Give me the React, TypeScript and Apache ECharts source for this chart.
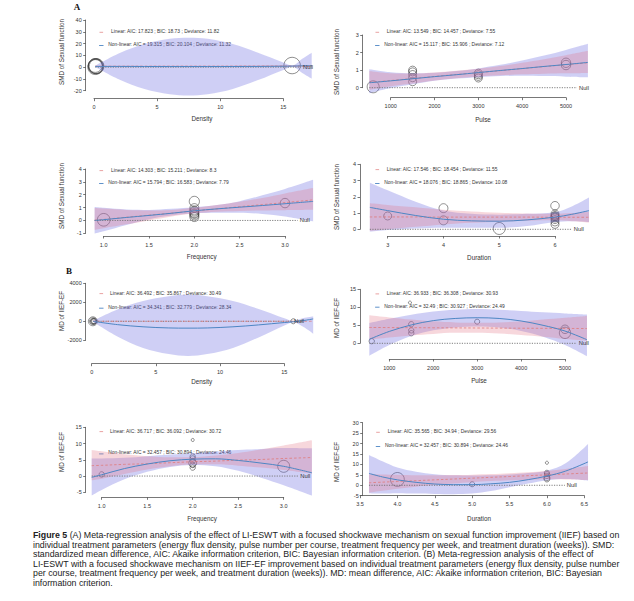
import React, { useEffect, useRef } from "react";
import * as echarts from "echarts";

// ---------- Panel A1: Density (SMD) ----------
const a1CurveX = [0.1, 2, 4, 6, 7.5, 9, 11, 13, 15, 15.7, 16.5, 17.25];
const a1NonlinFit = [0.6, 0.6, 0.55, 0.5, 0.5, 0.5, 0.55, 0.6, 0.8, 0.9, 1.1, 1.3];
const a1NonlinLower = [0.1, -10.5, -18.5, -23, -24, -23, -18.5, -11, -2.4, 0.4, -4.9, -9.7];
const a1NonlinUpper = [1.1, 11.7, 19.6, 24, 25, 24, 19.6, 12.2, 4, 1.4, 7.1, 12.3];
const a1LinFit = [0.75, 0.76, 0.78, 0.8, 0.81, 0.82, 0.84, 0.86, 0.88, 0.89, 0.9, 0.91];
const a1LinLower = [0.4, 0.45, 0.5, 0.5, 0.5, 0.45, 0.4, 0.3, 0.2, 0.15, 0.1, 0.05];
const a1LinUpper = [1.1, 1.07, 1.06, 1.1, 1.12, 1.19, 1.28, 1.42, 1.56, 1.63, 1.7, 1.77];
const a1StudyX = [0.1, 0.1, 0.12, 0.15, 0.2, 15.7];
const a1StudyY = [0.05, 1.4, 0.7, 0.9, 0.6, 1.35];
const a1Weight = [14, 12, 13, 14.5, 13.5, 17];

// ---------- Panel A2: Pulse (SMD) ----------
const a2CurveX = [511, 1000, 1500, 2000, 2500, 3000, 3500, 4000, 4500, 5000, 5500];
const a2NonlinFit = [0.28, 0.39, 0.51, 0.63, 0.74, 0.86, 0.98, 1.09, 1.21, 1.32, 1.44];
const a2NonlinLower = [-0.32, -0.02, 0.2, 0.4, 0.52, 0.6, 0.66, 0.68, 0.66, 0.63, 0.59];
const a2NonlinUpper = [1.05, 0.88, 0.82, 0.85, 0.95, 1.1, 1.3, 1.55, 1.83, 2.15, 2.5];
const a2LinFit = [0.3, 0.41, 0.52, 0.64, 0.75, 0.86, 0.97, 1.09, 1.2, 1.31, 1.42];
const a2LinLower = [-0.13, 0.08, 0.24, 0.41, 0.54, 0.64, 0.71, 0.76, 0.8, 0.82, 0.84];
const a2LinUpper = [0.95, 0.82, 0.8, 0.86, 0.96, 1.08, 1.23, 1.42, 1.62, 1.85, 2.1];
const a2StudyX = [600, 1500, 1500, 1500, 1500, 1500, 3000, 3000, 3000, 3000, 5000, 5000];
const a2StudyY = [0.05, 1.0, 0.9, 0.75, 0.57, 0.34, 0.83, 0.74, 0.64, 0.55, 1.42, 1.29];
const a2Weight = [9, 4, 4, 4, 4, 4, 4, 4, 4, 4, 5.5, 5.5];

// ---------- Panel A3: Frequency (SMD) ----------
const a3CurveX = [0.9, 1.0, 1.25, 1.5, 1.75, 2.0, 2.25, 2.5, 2.75, 3.0, 3.31];
const a3NonlinFit = [0.0, 0.06, 0.23, 0.39, 0.56, 0.75, 0.9, 1.03, 1.16, 1.3, 1.48];
const a3NonlinLower = [-1.03, -0.85, -0.35, 0.1, 0.38, 0.55, 0.6, 0.6, 0.5, 0.3, -0.08];
const a3NonlinUpper = [1.04, 0.98, 0.85, 0.82, 0.9, 1.02, 1.2, 1.5, 1.95, 2.45, 3.16];
const a3LinFit = [0.02, 0.08, 0.25, 0.41, 0.57, 0.74, 0.9, 1.07, 1.23, 1.39, 1.6];
const a3LinLower = [-0.72, -0.6, -0.3, 0.0, 0.3, 0.55, 0.68, 0.74, 0.78, 0.8, 0.83];
const a3LinUpper = [0.96, 0.92, 0.82, 0.78, 0.82, 0.98, 1.2, 1.45, 1.75, 2.1, 2.52];
const a3StudyX = [1.0, 2.0, 2.0, 2.0, 2.0, 2.0, 2.0, 2.0, 2.0, 3.0];
const a3StudyY = [0.05, 1.48, 0.96, 0.78, 0.68, 0.57, 0.5, 0.39, 0.26, 1.35];
const a3Weight = [10, 6.5, 5, 5, 5, 5, 5, 5, 5, 5.5];

// ---------- Panel A4: Duration (SMD) ----------
const a4CurveX = [2.68, 3, 3.5, 4, 4.5, 5, 5.5, 6, 6.3, 6.61];
const a4NonlinFit = [1.35, 1.15, 0.85, 0.62, 0.52, 0.5, 0.58, 0.75, 0.92, 1.15];
const a4NonlinLower = [-0.15, -0.05, 0.05, 0.1, 0.1, 0.1, 0.2, 0.45, 0.5, 0.45];
const a4NonlinUpper = [2.87, 2.4, 1.7, 1.15, 0.95, 0.9, 0.95, 1.05, 1.4, 1.95];
const a4LinFit = [0.76, 0.76, 0.76, 0.75, 0.75, 0.75, 0.75, 0.74, 0.74, 0.74];
const a4LinLower = [-0.1, 0.0, 0.15, 0.3, 0.4, 0.47, 0.53, 0.55, 0.5, 0.42];
const a4LinUpper = [1.6, 1.5, 1.35, 1.2, 1.1, 1.02, 0.97, 0.95, 1.0, 1.08];
const a4StudyX = [3, 4, 4, 5, 6, 6, 6, 6, 6, 6, 6, 6, 6];
const a4StudyY = [0.82, 1.3, 0.55, 0.05, 1.45, 0.95, 0.85, 0.8, 0.75, 0.7, 0.6, 0.45, 0.3];
const a4Weight = [4, 5, 5, 9, 4.5, 4, 4, 4, 4, 4, 4, 4, 4];

// ---------- Panel B1: Density (MD) ----------
const b1CurveX = [0.1, 2, 4, 6, 7.5, 9, 11, 13, 15, 15.7, 16.5, 17.25];
const b1NonlinFit = [0, -350, -580, -700, -720, -700, -580, -380, -130, -50, 80, 250];
const b1NonlinLower = [-60, -1600, -2800, -3450, -3650, -3450, -2800, -1700, -450, -100, -600, -1300];
const b1NonlinUpper = [60, 1250, 2150, 2650, 2800, 2650, 2150, 1300, 330, 50, 350, 500];
const b1LinFit = [4.4, 4.4, 4.3, 4.3, 4.3, 4.2, 4.2, 4.1, 4.1, 4.1, 4.0, 4.0];
const b1LinLower = [1.5, 2, 2.3, 2.2, 2, 1.7, 1.2, 0.6, 0, -0.3, -0.6, -1];
const b1LinUpper = [7.3, 6.8, 6.3, 6.4, 6.6, 6.7, 7.2, 7.6, 8.2, 8.5, 8.6, 9.0];
const b1StudyX = [0.09, 0.1, 0.1, 0.15, 0.2, 15.7];
const b1StudyY = [0.5, 5.3, 3.6, 2.8, 6.0, 3.0];
const b1Weight = [5, 3, 1.6, 2, 1.8, 1.6];

// ---------- Panel B2: Pulse (MD) ----------
const b2CurveX = [545, 1000, 1500, 2000, 2500, 3000, 3500, 4000, 4500, 5000, 5500];
const b2NonlinFit = [1.1, 3.3, 5.1, 6.3, 6.9, 7.1, 6.9, 6.2, 5.0, 3.4, 1.0];
const b2NonlinLower = [-3.5, -0.5, 2.0, 3.6, 4.4, 4.7, 4.4, 3.4, 1.8, -0.5, -3.6];
const b2NonlinUpper = [5.6, 6.8, 7.9, 8.8, 9.3, 9.5, 9.3, 9.0, 8.6, 8.3, 8.0];
const b2LinFit = [4.4, 4.37, 4.34, 4.31, 4.28, 4.25, 4.22, 4.19, 4.16, 4.13, 4.1];
const b2LinLower = [1.0, 1.6, 2.2, 2.6, 2.9, 2.9, 2.7, 2.3, 1.8, 1.2, 0.7];
const b2LinUpper = [7.8, 7.2, 6.6, 6.1, 5.8, 5.7, 5.8, 6.1, 6.6, 7.1, 7.6];
const b2StudyX = [600, 1470, 1500, 1500, 1500, 3000, 5000, 5000];
const b2StudyY = [0.6, 11.3, 5.3, 3.6, 2.8, 6.0, 3.9, 2.9];
const b2Weight = [1.8, 0.6, 1.8, 1.8, 1.8, 1.6, 4.5, 8];

// ---------- Panel B3: Frequency (MD) ----------
const b3CurveX = [0.89, 1.0, 1.25, 1.5, 1.75, 2.0, 2.25, 2.5, 2.75, 3.0, 3.31];
const b3NonlinFit = [-0.4, 0.4, 2.3, 3.7, 4.7, 5.2, 5.3, 4.8, 4.0, 3.0, 1.0];
const b3NonlinLower = [-6.0, -4.3, -1.0, 1.3, 2.8, 3.4, 3.0, 1.6, -0.5, -2.8, -6.0];
const b3NonlinUpper = [5.4, 5.4, 5.6, 6.1, 6.6, 7.0, 7.5, 8.0, 8.3, 8.6, 8.5];
const b3LinFit = [3.2, 3.3, 3.6, 3.8, 4.1, 4.4, 4.6, 4.9, 5.1, 5.4, 5.7];
const b3LinLower = [-1.3, -0.8, 0.6, 2.0, 3.0, 3.6, 3.6, 3.2, 2.6, 1.9, 0.8];
const b3LinUpper = [8.0, 7.6, 6.7, 6.1, 5.8, 5.8, 6.3, 7.1, 8.2, 9.4, 11.0];
const b3StudyX = [1.0, 2, 2, 2, 2, 2, 2, 2, 3.0];
const b3StudyY = [0.5, 11.1, 6.0, 5.4, 4.6, 4.0, 3.4, 2.6, 3.0];
const b3Weight = [1.8, 0.6, 1.8, 1.8, 1.8, 4, 1.8, 1.8, 9];

// ---------- Panel B4: Duration (MD) ----------
const b4CurveX = [3.62, 3.8, 4.0, 4.25, 4.5, 4.75, 5.0, 5.25, 5.5, 5.75, 6.0, 6.25, 6.55];
const b4NonlinFit = [5.7, 4.0, 2.6, 1.4, 0.6, 0.3, 0.3, 0.7, 1.4, 2.7, 4.4, 6.8, 11.2];
const b4NonlinLower = [-3.8, -4.0, -3.8, -4.0, -4.2, -4.3, -4.0, -2.8, -1.0, 0.8, 2.4, 3.0, 2.2];
const b4NonlinUpper = [14.5, 11.5, 8.5, 6.5, 5.3, 4.8, 4.7, 4.8, 5.2, 5.9, 7.0, 10.5, 19.8];
const b4LinFit = [1.2, 1.5, 1.8, 2.2, 2.6, 3.0, 3.4, 3.8, 4.2, 4.6, 5.0, 5.4, 5.9];
const b4LinLower = [-3.5, -2.6, -1.7, -0.7, 0.2, 0.9, 1.5, 2.0, 2.4, 2.7, 2.9, 2.8, 2.5];
const b4LinUpper = [5.3, 5.2, 5.0, 4.8, 4.8, 4.9, 5.1, 5.4, 5.8, 6.3, 6.9, 7.8, 9.2];
const b4StudyX = [4.0, 5.0, 6, 6, 6, 6, 6, 6];
const b4StudyY = [2.8, 0.5, 10.8, 6.0, 5.4, 4.5, 3.6, 3.0];
const b4Weight = [12, 1.6, 0.6, 1.6, 1.6, 1.8, 2.2, 2.2];

// ---------- Axes: ticks [min, max, step], null-line end, titles, legends ----------
const xTicks = [[0, 15, 5], [1000, 5000, 1000], [1, 3, 0.5], [3, 6, 1], [0, 15, 5], [1000, 5000, 1000], [1, 3, 0.5], [3.5, 6.5, 0.5]];
const xTickDecimals = [0, 0, 1, 0, 0, 0, 1, 1];
const yTicks = [[-20, 40, 10], [0, 3, 1], [-1, 4, 1], [0, 4, 1], [-2000, 4000, 2000], [0, 15, 5], [-5, 15, 5], [-5, 30, 5]];
const nullLineEnd = [16.4, 5250, 3.14, 6.3, 15.6, 5270, 3.16, 6.24];
const xTitles = ["Density", "Pulse", "Frequency", "Duration", "Density", "Pulse", "Frequency", "Duration"];
const yTitles = [
  "SMD of Sexual function", "SMD of Sexual function", "SMD of Sexual function", "SMD of Sexual function",
  "MD of IIEF-EF", "MD of IIEF-EF", "MD of IIEF-EF", "MD of IIEF-EF",
];
const linearLegend = [
  "Linear: AIC: 17.823 ; BIC: 18.73 ; Deviance: 11.82",
  "Linear: AIC: 13.549 ; BIC: 14.457 ; Deviance: 7.55",
  "Linear: AIC: 14.303 ; BIC: 15.211 ; Deviance: 8.3",
  "Linear: AIC: 17.546 ; BIC: 18.454 ; Deviance: 11.55",
  "Linear: AIC: 36.492 ; BIC: 35.867 ; Deviance: 30.49",
  "Linear: AIC: 36.933 ; BIC: 36.308 ; Deviance: 30.93",
  "Linear: AIC: 36.717 ; BIC: 36.092 ; Deviance: 30.72",
  "Linear: AIC: 35.565 ; BIC: 34.94 ; Deviance: 29.56",
];
const nonlinearLegend = [
  "Non-linear: AIC = 19.315 ; BIC: 20.104 ; Deviance: 11.32",
  "Non-linear: AIC = 15.117 ; BIC: 15.906 ; Deviance: 7.12",
  "Non-linear: AIC = 15.794 ; BIC: 16.583 ; Deviance: 7.79",
  "Non-linear: AIC = 18.076 ; BIC: 18.865 ; Deviance: 10.08",
  "Non-linear: AIC = 34.341 ; BIC: 32.779 ; Deviance: 28.34",
  "Non-linear: AIC = 32.49 ; BIC: 30.927 ; Deviance: 24.49",
  "Non-linear: AIC = 32.457 ; BIC: 30.894 ; Deviance: 24.46",
  "Non-linear: AIC = 32.457 ; BIC: 30.894 ; Deviance: 24.46",
];
const panelLetters = ["A", "B"];
const captionLines = [
  "(A) Meta-regression analysis of the effect of LI-ESWT with a focused shockwave mechanism on sexual function improvement (IIEF) based on",
  "individual treatment parameters (energy flux density, pulse number per course, treatment frequency per week, and treatment duration (weeks)). SMD:",
  "standardized mean difference, AIC: Akaike information criterion, BIC: Bayesian information criterion. (B) Meta-regression analysis of the effect of",
  "LI-ESWT with a focused shockwave mechanism on IIEF-EF improvement based on individual treatment parameters (energy flux density, pulse number",
  "per course, treatment frequency per week, and treatment duration (weeks)). MD: mean difference, AIC: Akaike information criterion, BIC: Bayesian",
  "information criterion.",
];

const panelData = [
  [a1CurveX, a1NonlinFit, a1NonlinLower, a1NonlinUpper, a1LinFit, a1LinLower, a1LinUpper, a1StudyX, a1StudyY, a1Weight],
  [a2CurveX, a2NonlinFit, a2NonlinLower, a2NonlinUpper, a2LinFit, a2LinLower, a2LinUpper, a2StudyX, a2StudyY, a2Weight],
  [a3CurveX, a3NonlinFit, a3NonlinLower, a3NonlinUpper, a3LinFit, a3LinLower, a3LinUpper, a3StudyX, a3StudyY, a3Weight],
  [a4CurveX, a4NonlinFit, a4NonlinLower, a4NonlinUpper, a4LinFit, a4LinLower, a4LinUpper, a4StudyX, a4StudyY, a4Weight],
  [b1CurveX, b1NonlinFit, b1NonlinLower, b1NonlinUpper, b1LinFit, b1LinLower, b1LinUpper, b1StudyX, b1StudyY, b1Weight],
  [b2CurveX, b2NonlinFit, b2NonlinLower, b2NonlinUpper, b2LinFit, b2LinLower, b2LinUpper, b2StudyX, b2StudyY, b2Weight],
  [b3CurveX, b3NonlinFit, b3NonlinLower, b3NonlinUpper, b3LinFit, b3LinLower, b3LinUpper, b3StudyX, b3StudyY, b3Weight],
  [b4CurveX, b4NonlinFit, b4NonlinLower, b4NonlinUpper, b4LinFit, b4LinLower, b4LinUpper, b4StudyX, b4StudyY, b4Weight],
];

// ---------- Layout (pixels) ----------
const layouts = [
  { xa: 94, xb: 283.3, xAxisY: 98.7, yc: 90.7, yd: 20, yAxisX: 85.7, xt: [202, 118], yt: [61.7, 52], leg: [111, 31.7, 108.3, 44.3] },
  { xa: 390.7, xb: 566, xAxisY: 97.7, yc: 87.7, yd: 35, yAxisX: 362.7, xt: [483, 119], yt: [336.7, 62], leg: [386.7, 31.7, 384.3, 44.3] },
  { xa: 103.7, xb: 285, xAxisY: 236, yc: 233.3, yd: 169, yAxisX: 85.7, xt: [201.7, 256.7], yt: [61.7, 196], leg: [111, 170, 108.3, 182.3] },
  { xa: 387.7, xb: 555, xAxisY: 236, yc: 229.3, yd: 164.3, yAxisX: 360, xt: [479, 257.3], yt: [336.7, 197], leg: [386.7, 169, 384.3, 182.3] },
  { xa: 91.7, xb: 284.3, xAxisY: 363.7, yc: 340.3, yd: 283.3, yAxisX: 85.7, xt: [201.7, 381.7], yt: [61.7, 311], leg: [110, 293, 108.3, 307] },
  { xa: 389.3, xb: 565, xAxisY: 359, yc: 343.3, yd: 289.3, yAxisX: 360, xt: [479, 380], yt: [336.7, 318], leg: [386.7, 293.3, 384.3, 306] },
  { xa: 101.7, xb: 283.7, xAxisY: 497.3, yc: 492.3, yd: 427.3, yAxisX: 85.7, xt: [202, 518], yt: [61.7, 452], leg: [110, 431, 108.3, 452.7] },
  { xa: 360, xb: 584.3, xAxisY: 495.7, yc: 495.7, yd: 422.7, yAxisX: 362.7, xt: [479, 518.5], yt: [336.7, 462], leg: [387.7, 431.7, 385, 445.3] },
];

const FONT = "'Liberation Sans', Arial, Helvetica, sans-serif";
const AXIS_COLOR = "#555";
const TEXT_COLOR = "#333";
const BLUE_BAND = "rgba(105,105,225,0.32)";
const PINK_BAND = "rgba(225,110,130,0.28)";
const BLUE_LINE = "#4d86c4";
const PINK_LINE = "#e07a7a";

function buildOption() {
  const grid: any[] = [];
  const xAxis: any[] = [];
  const yAxis: any[] = [];
  const series: any[] = [];
  const graphic: any[] = [];

  const pairs = (xs: number[], ys: number[]) => xs.map((x, k) => [x, ys[k]]);
  // value first, x second: keeps the stacked dimension on y
  const yxPairs = (xs: number[], ys: number[]) => xs.map((x, k) => [ys[k], x]);
  const diff = (hi: number[], lo: number[]) => hi.map((h, k) => +(h - lo[k]).toFixed(4));

  panelData.forEach((pd, i) => {
    const [cx, nlFit, nlLo, nlHi, linFit, linLo, linHi, sx, sy, sw] = pd as number[][];
    const L = layouts[i];
    const [a, b, xs] = xTicks[i];
    const [c, d, ys] = yTicks[i];
    const kx = (L.xb - L.xa) / (b - a);
    const x0 = cx[0];
    const x1 = cx[cx.length - 1];
    const gl = L.xa + (x0 - a) * kx;
    const gw = (x1 - x0) * kx;
    const g = 2 * i;

    grid.push({ left: gl, top: L.yd, width: gw, height: L.yc - L.yd });
    grid.push({ left: L.xa, top: L.xAxisY - 1, width: L.xb - L.xa, height: 1 });

    xAxis.push({ gridIndex: g, type: "value", min: x0, max: x1, show: false });
    yAxis.push({
      gridIndex: g,
      type: "value",
      min: c,
      max: d,
      interval: ys,
      position: "left",
      offset: gl - L.yAxisX,
      axisLine: { show: true, onZero: false, lineStyle: { color: AXIS_COLOR, width: 0.8 } },
      axisTick: { show: true, length: 2.5, lineStyle: { color: AXIS_COLOR, width: 0.8 } },
      axisLabel: {
        fontSize: 5.5,
        color: TEXT_COLOR,
        margin: 4,
        fontFamily: FONT,
        showMinLabel: true,
        showMaxLabel: true,
        formatter: (v: number) => String(v),
      },
      splitLine: { show: false },
    });
    xAxis.push({
      gridIndex: g + 1,
      type: "value",
      min: a,
      max: b,
      interval: xs,
      position: "bottom",
      axisLine: { show: true, onZero: false, lineStyle: { color: AXIS_COLOR, width: 0.8 } },
      axisTick: { show: true, length: 2.5, lineStyle: { color: AXIS_COLOR, width: 0.8 } },
      axisLabel: {
        fontSize: 5.5,
        color: TEXT_COLOR,
        margin: 5.5,
        fontFamily: FONT,
        showMinLabel: true,
        showMaxLabel: true,
        formatter: (v: number) => v.toFixed(xTickDecimals[i]),
      },
      splitLine: { show: false },
    });
    yAxis.push({ gridIndex: g + 1, type: "value", min: 0, max: 1, show: false });

    const common = { xAxisIndex: g, yAxisIndex: g, symbol: "none", silent: true, clip: false, smooth: 0.35 };
    const bandCommon = { ...common, type: "line", encode: { x: 1, y: 0 }, stackStrategy: "all", lineStyle: { opacity: 0 } };

    // Non-linear CI band (blue)
    series.push({ ...bandCommon, data: yxPairs(cx, nlLo), stack: "nl" + i });
    series.push({ ...bandCommon, data: yxPairs(cx, diff(nlHi, nlLo)), stack: "nl" + i, areaStyle: { color: BLUE_BAND, opacity: 1 } });
    // Linear CI band (pink)
    series.push({ ...bandCommon, data: yxPairs(cx, linLo), stack: "lin" + i });
    series.push({ ...bandCommon, data: yxPairs(cx, diff(linHi, linLo)), stack: "lin" + i, areaStyle: { color: PINK_BAND, opacity: 1 } });
    // Null line
    series.push({
      ...common,
      type: "line",
      smooth: false,
      data: [[x0, 0], [nullLineEnd[i], 0]],
      lineStyle: { color: "#707070", width: 0.9, type: [1.2, 1.3] },
      endLabel: { show: true, formatter: "Null", fontSize: 5.8, color: TEXT_COLOR, distance: 2, fontFamily: FONT },
    });
    // Linear fit (pink dashed)
    series.push({ ...common, type: "line", data: pairs(cx, linFit), lineStyle: { color: PINK_LINE, width: 0.8, type: [2.5, 2] } });
    // Non-linear fit (blue)
    series.push({ ...common, type: "line", data: pairs(cx, nlFit), lineStyle: { color: BLUE_LINE, width: 1 } });
    // Studies
    series.push({
      type: "scatter",
      xAxisIndex: g,
      yAxisIndex: g,
      silent: true,
      clip: false,
      symbol: "circle",
      data: sx.map((x, k) => ({ value: [x, sy[k]], symbolSize: 4 * Math.sqrt(sw[k]) })),
      itemStyle: { color: "rgba(0,0,0,0)", borderColor: "#353535", borderWidth: 0.7 },
    });

    // Titles
    graphic.push({
      type: "text",
      x: L.xt[0],
      y: L.xt[1],
      style: { text: xTitles[i], fontSize: 6.3, fontFamily: FONT, fill: TEXT_COLOR, textAlign: "center", textVerticalAlign: "middle" },
    });
    graphic.push({
      type: "text",
      x: L.yt[0],
      y: L.yt[1],
      rotation: Math.PI / 2,
      style: { text: yTitles[i], fontSize: 6.3, fontFamily: FONT, fill: TEXT_COLOR, textAlign: "center", textVerticalAlign: "middle" },
    });
    // Legend
    const [lx, ly, nx, ny] = L.leg;
    graphic.push({ type: "line", shape: { x1: nx - 8.8, y1: ly + 0.6, x2: nx - 5.2, y2: ly + 0.6 }, style: { stroke: PINK_LINE, lineWidth: 0.7 } });
    graphic.push({ type: "line", shape: { x1: nx - 9.2, y1: ny + 1.2, x2: nx - 4.8, y2: ny + 1.2 }, style: { stroke: BLUE_LINE, lineWidth: 0.9 } });
    graphic.push({
      type: "text",
      x: lx,
      y: ly,
      style: { text: linearLegend[i], fontSize: 4.9, fontFamily: FONT, fill: TEXT_COLOR, textAlign: "left", textVerticalAlign: "middle" },
    });
    graphic.push({
      type: "text",
      x: nx,
      y: ny,
      style: { text: nonlinearLegend[i], fontSize: 4.9, fontFamily: FONT, fill: TEXT_COLOR, textAlign: "left", textVerticalAlign: "middle" },
    });
  });

  // Panel letters
  const serif = "'Liberation Serif', 'Times New Roman', serif";
  graphic.push({
    type: "text",
    x: 77,
    y: 7,
    style: { text: panelLetters[0], fontSize: 9, fontWeight: "bold", fontFamily: serif, fill: "#111", textAlign: "center", textVerticalAlign: "middle" },
  });
  graphic.push({
    type: "text",
    x: 69,
    y: 271,
    style: { text: panelLetters[1], fontSize: 9, fontWeight: "bold", fontFamily: serif, fill: "#111", textAlign: "center", textVerticalAlign: "middle" },
  });

  // Caption
  const capY = [535, 544.5, 554, 563.5, 573, 582.5];
  captionLines.forEach((line, k) => {
    graphic.push({
      type: "text",
      x: 33,
      y: capY[k],
      style: {
        text: k === 0 ? "{b|Figure 5} " + line : line,
        rich: { b: { fontWeight: "bold", fontSize: 8.8, fontFamily: FONT, fill: "#222" } },
        fontSize: 8.8,
        fontFamily: FONT,
        fill: "#222",
        textAlign: "left",
        textVerticalAlign: "middle",
      },
    });
  });

  return {
    animation: false,
    backgroundColor: "#ffffff",
    textStyle: { fontFamily: FONT },
    grid,
    xAxis,
    yAxis,
    series,
    graphic,
  };
}

export default function App() {
  const ref = useRef<HTMLDivElement>(null);
  useEffect(() => {
    document.body.style.margin = "0";
    if (!ref.current) return;
    const chart = echarts.init(ref.current, undefined, { renderer: "svg" });
    chart.setOption(buildOption() as any);
    return () => chart.dispose();
  }, []);
  return <div ref={ref} style={{ width: 634, height: 601 }} />;
}
